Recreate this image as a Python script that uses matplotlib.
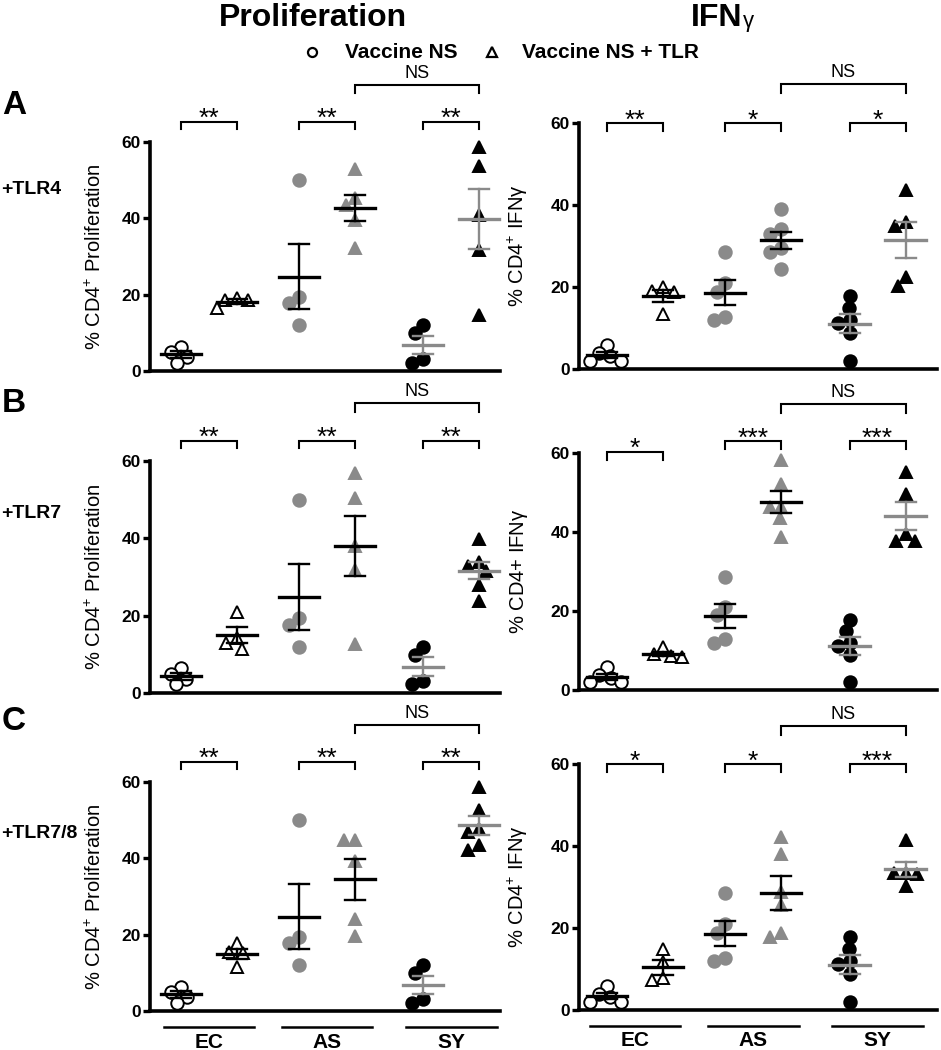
import numpy as np
import matplotlib.pyplot as plt
from matplotlib.lines import Line2D

plt.rcParams['font.family'] = ['Liberation Sans', 'DejaVu Sans']
plt.rcParams['mathtext.fontset'] = 'custom'
plt.rcParams['mathtext.rm'] = 'Liberation Sans'
plt.rcParams['mathtext.default'] = 'regular'

# ---- data (% of CD4+ cells) ----
groups = ['EC', 'AS', 'SY']

# vaccine NS, same in every row
prolif_ns_ec = [6.4, 5.0, 3.7, 2.2]
prolif_ns_as = [50.0, 19.3, 17.7, 12.0]
prolif_ns_sy = [12.0, 9.9, 3.1, 2.2]
ifng_ns_ec = [5.9, 3.9, 3.1, 1.9, 1.9]
ifng_ns_as = [28.5, 21.0, 18.9, 12.8, 12.0]
ifng_ns_sy = [17.7, 14.9, 12.0, 11.2, 8.8, 1.9]

# vaccine NS + TLR agonist
prolif_tlr4_ec = [19.0, 18.7, 18.5, 16.5]
prolif_tlr4_as = [53.0, 45.2, 43.4, 39.5, 32.1]
prolif_tlr4_sy = [58.7, 53.6, 40.8, 31.7, 14.8]
ifng_tlr4_ec = [20.0, 19.0, 18.7, 13.5]
ifng_tlr4_as = [39.0, 34.1, 33.0, 29.5, 28.5, 24.5]
ifng_tlr4_sy = [43.7, 35.8, 34.8, 22.4, 20.3]

prolif_tlr7_ec = [20.9, 14.2, 13.0, 11.5]
prolif_tlr7_as = [56.8, 50.4, 38.0, 31.9, 12.7]
prolif_tlr7_sy = [39.7, 33.9, 32.9, 31.5, 27.9, 23.7]
ifng_tlr7_ec = [10.8, 9.0, 8.5, 8.3]
ifng_tlr7_as = [58.3, 52.2, 46.4, 46.3, 43.5, 38.8]
ifng_tlr7_sy = [55.3, 49.7, 39.5, 37.8, 37.8]

prolif_tlr78_ec = [17.7, 15.5, 15.1, 11.6]
prolif_tlr78_as = [44.9, 44.9, 39.3, 24.0, 19.6]
prolif_tlr78_sy = [58.8, 52.6, 47.8, 46.9, 43.4, 42.3]
ifng_tlr78_ec = [14.8, 11.8, 7.7, 7.3]
ifng_tlr78_as = [42.2, 38.1, 28.7, 25.7, 18.7, 17.8]
ifng_tlr78_sy = [41.4, 33.5, 33.3, 33.2, 30.3]

row_letters = ['A', 'B', 'C']
row_names = ['+TLR4', '+TLR7', '+TLR7/8']

prolif_sig = [['**', '**', '**'], ['**', '**', '**'], ['**', '**', '**']]
ifng_sig = [['**', '*', '*'], ['*', '***', '***'], ['*', '*', '***']]
ns_label = 'NS'

prolif_ylabel = '% CD4$^{+}$ Proliferation'
ifng_ylabels = ['% CD4$^{+}$ IFN$\\gamma$', '% CD4+ IFN$\\gamma$', '% CD4$^{+}$ IFN$\\gamma$']


W, H = 941, 1050
fig = plt.figure(figsize=(W / 100, H / 100), dpi=100)

GRAY = '#8a8a8a'
xpos = np.array([0, 1, 2.11, 3.11, 4.33, 5.33])
MS = 9.0


def px_axes(x0, x1, ytop, ybot):
    return fig.add_axes([x0 / W, 1 - ybot / H, (x1 - x0) / W, (ybot - ytop) / H])


def swarm(vals, sx, sy, diam):
    # simple beeswarm in pixel space, returns x offsets in data units
    placed = []
    offs = []
    for v in vals:
        y = v * sy
        cands = [0.0]
        for k in range(1, 80):
            cands += [-k * 0.5, k * 0.5]
        for c in cands:
            if all((c - px) ** 2 + (y - py) ** 2 >= diam ** 2 for px, py in placed):
                break
        placed.append((c, y))
        offs.append(c / sx)
    return np.array(offs)


def bracket(ax, x1, x2, y, drop, text, fs, sy, star=True):
    ax.plot([x1, x1, x2, x2], [y - drop, y, y, y - drop], color='black', lw=1.5,
            clip_on=False, solid_joinstyle='miter')
    if star:
        # asterisks sit high in the em box, so anchor the baseline below the bar
        ax.text((x1 + x2) / 2, y - 4.5 / sy, text, ha='center', va='baseline',
                fontsize=fs, clip_on=False)
    else:
        ax.text((x1 + x2) / 2, y + 3.0 / sy, text, ha='center', va='bottom',
                fontsize=fs, clip_on=False)


def panel(ax, xlim, sets, markers, sig, pair_y, ns_y, ylabel, label_x, bottom_groups):
    ax.set_xlim(*xlim)
    ax.set_ylim(0, 60)
    bbox = ax.get_position()
    sx = bbox.width * W / (xlim[1] - xlim[0])
    sy = bbox.height * H / 60.0
    styles = [('white', 'black', 'black'), (GRAY, GRAY, 'black'), ('black', 'black', GRAY)]
    for i, vals in enumerate(sets):
        g = i // 2
        fc, ec, mc = styles[g]
        vals = np.array(vals)
        offs = swarm(vals, sx, sy, 11.5)
        ax.plot(xpos[i] + offs, vals, ls='none', marker=markers[i], ms=MS,
                mfc=fc, mec=ec, mew=1.4, clip_on=False, zorder=3)
        m = vals.mean()
        sem = vals.std(ddof=1) / np.sqrt(len(vals))
        x = xpos[i]
        ax.plot([x - 0.36, x + 0.36], [m, m], color=mc, lw=2.4, zorder=5, clip_on=False)
        ax.plot([x, x], [m - sem, m + sem], color=mc, lw=1.7, zorder=5, clip_on=False)
        for yy in (m - sem, m + sem):
            ax.plot([x - 0.18, x + 0.18], [yy, yy], color=mc, lw=1.7, zorder=5, clip_on=False)
    for g in range(3):
        bracket(ax, xpos[2 * g], xpos[2 * g + 1], pair_y[g], 2.0, sig[g], 19, sy)
    bracket(ax, xpos[3], xpos[5], ns_y, 2.2, ns_label, 13, sy, star=False)

    for s in ('top', 'right'):
        ax.spines[s].set_visible(False)
    for s in ('left', 'bottom'):
        ax.spines[s].set_linewidth(2.6)
    ax.set_xticks([])
    ax.set_yticks([0, 20, 40, 60])
    ax.tick_params(axis='y', length=5, width=2.4, labelsize=12.5, pad=1.5)
    for lab in ax.get_yticklabels():
        lab.set_fontweight('bold')
    ax.set_ylabel(ylabel, fontsize=14.5)
    ax.yaxis.set_label_coords(label_x, 0.5)

    if bottom_groups:
        ylin = -16 / (bbox.height * H)
        ytxt = -31 / (bbox.height * H)
        for g in range(3):
            c = (xpos[2 * g] + xpos[2 * g + 1]) / 2
            ax.plot([c - 0.81, c + 0.81], [ylin * 60, ylin * 60], color='black', lw=1.8,
                    clip_on=False)
            ax.text(c, ytxt * 60, groups[g], ha='center', va='center', fontsize=15,
                    fontweight='bold', clip_on=False)


prolif_sets = [
    [prolif_ns_ec, prolif_tlr4_ec, prolif_ns_as, prolif_tlr4_as, prolif_ns_sy, prolif_tlr4_sy],
    [prolif_ns_ec, prolif_tlr7_ec, prolif_ns_as, prolif_tlr7_as, prolif_ns_sy, prolif_tlr7_sy],
    [prolif_ns_ec, prolif_tlr78_ec, prolif_ns_as, prolif_tlr78_as, prolif_ns_sy, prolif_tlr78_sy],
]
ifng_sets = [
    [ifng_ns_ec, ifng_tlr4_ec, ifng_ns_as, ifng_tlr4_as, ifng_ns_sy, ifng_tlr4_sy],
    [ifng_ns_ec, ifng_tlr7_ec, ifng_ns_as, ifng_tlr7_as, ifng_ns_sy, ifng_tlr7_sy],
    [ifng_ns_ec, ifng_tlr78_ec, ifng_ns_as, ifng_tlr78_as, ifng_ns_sy, ifng_tlr78_sy],
]

mk = ['o', '^', 'o', '^', 'o', '^']
mk_a_ifng = ['o', '^', 'o', 'o', 'o', '^']

left_rows = [(142, 371), (461, 693), (782, 1011)]
right_rows = [(123, 369), (453, 690), (764, 1010)]
right_pair_y = [[60, 60, 60], [60.3, 63, 63], [60, 60, 60]]
right_ns_y = [69.5, 72.4, 69.3]

for r in range(3):
    axl = px_axes(150, 500, *left_rows[r])
    panel(axl, (-0.554, 5.70), prolif_sets[r], mk, prolif_sig[r], [65.3, 65.3, 65.3], 75.0,
          prolif_ylabel, -0.129, r == 2)
    axr = px_axes(579, 937, *right_rows[r])
    panel(axr, (-0.5, 5.89), ifng_sets[r], mk_a_ifng if r == 0 else mk, ifng_sig[r],
          right_pair_y[r], right_ns_y[r], ifng_ylabels[r], -0.137, r == 2)

# row labels
letter_y = [105, 403, 722]
name_y = [190, 513, 833]
for r in range(3):
    fig.text(2 / W, 1 - letter_y[r] / H, row_letters[r], fontsize=24, fontweight='bold',
             ha='left', va='center')
    fig.text(1 / W, 1 - name_y[r] / H, row_names[r], fontsize=14, fontweight='bold',
             ha='left', va='center')

# column titles
fig.text(313 / W, 1 - 18 / H, 'Proliferation', fontsize=23, fontweight='bold',
         ha='center', va='center')
fig.text(742 / W, 1 - 18 / H, 'IFN', fontsize=23, fontweight='bold', ha='right', va='center')
fig.text(743 / W, 1 - 22 / H, 'γ', fontsize=16, ha='left', va='center')

# legend
fig.add_artist(Line2D([312 / W], [1 - 52 / H], marker='o', ms=6.5, mfc='white', mec='black',
                      mew=1.6, transform=fig.transFigure))
fig.text(345 / W, 1 - 52 / H, 'Vaccine NS', fontsize=15, fontweight='bold', va='center')
fig.add_artist(Line2D([492 / W], [1 - 52 / H], marker='^', ms=6.5, mfc='white', mec='black',
                      mew=1.6, transform=fig.transFigure))
fig.text(522 / W, 1 - 52 / H, 'Vaccine NS + TLR', fontsize=15, fontweight='bold', va='center')

fig.savefig('out.png', dpi=100)
